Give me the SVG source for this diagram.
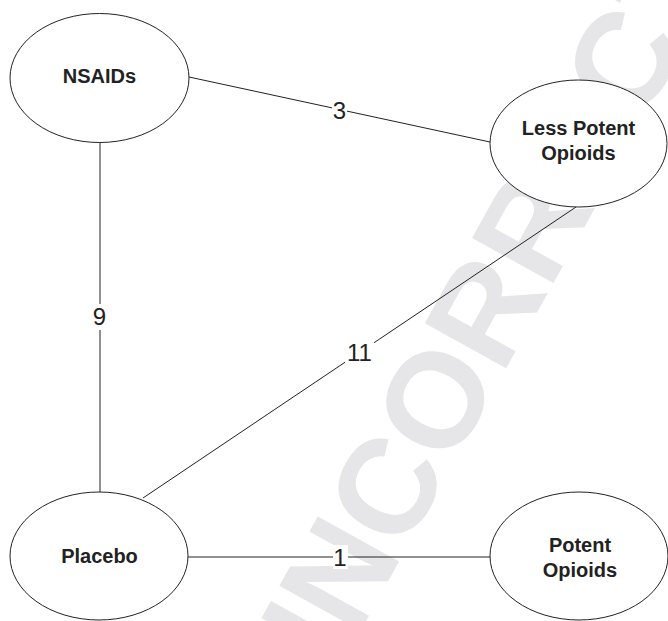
<svg xmlns="http://www.w3.org/2000/svg" width="668" height="621" viewBox="0 0 668 621">
<style>
.node ellipse{fill:#fff;stroke:#222;stroke-width:1}
.node text{font-family:"Liberation Sans",Arial,sans-serif;font-weight:bold;font-size:20px;fill:#222;text-anchor:middle}
.edges line{stroke:#222;stroke-width:1}
.lbl rect{fill:#fff}
.lbl text{font-family:"Liberation Sans",Arial,sans-serif;font-size:24px;fill:#222;text-anchor:middle}
.wm{font-family:"Liberation Sans",Arial,sans-serif;font-weight:bold;font-size:135px;fill:#e6e6e8}
</style>
<rect width="668" height="621" fill="#fff"/>
<text class="wm" transform="translate(309,724) rotate(-61)">UNCORRECTED PROOF</text>
<g id="edges" class="edges">
<line x1="189" y1="77" x2="490" y2="142"/>
<line x1="100" y1="142" x2="100" y2="492"/>
<line x1="576" y1="207" x2="143" y2="498"/>
<line x1="188" y1="557" x2="490" y2="557"/>
<g class="lbl">
<rect x="332" y="99" width="15" height="22"/><text x="339.5" y="119">3</text>
<rect x="91" y="304" width="18" height="26"/><text x="99.5" y="325">9</text>
<rect x="345" y="340" width="29" height="24"/><text x="359.5" y="361">11</text>
<rect x="333" y="545" width="15" height="24"/><text x="340" y="565.5">1</text>
</g>
</g>
<g id="node-nsaids" class="node"><ellipse cx="99.5" cy="78" rx="89.5" ry="64.5"/><text x="99.5" y="83">NSAIDs</text></g>
<g id="node-less-potent" class="node"><ellipse cx="578.5" cy="143.5" rx="88.5" ry="63.5"/><text x="578.5" y="135">Less Potent</text><text x="578.5" y="160">Opioids</text></g>
<g id="node-placebo" class="node"><ellipse cx="99" cy="556" rx="89" ry="64"/><text x="99.5" y="563">Placebo</text></g>
<g id="node-potent" class="node"><ellipse cx="579" cy="556" rx="89" ry="64"/><text x="580" y="551.5">Potent</text><text x="580" y="576.5">Opioids</text></g>
</svg>
